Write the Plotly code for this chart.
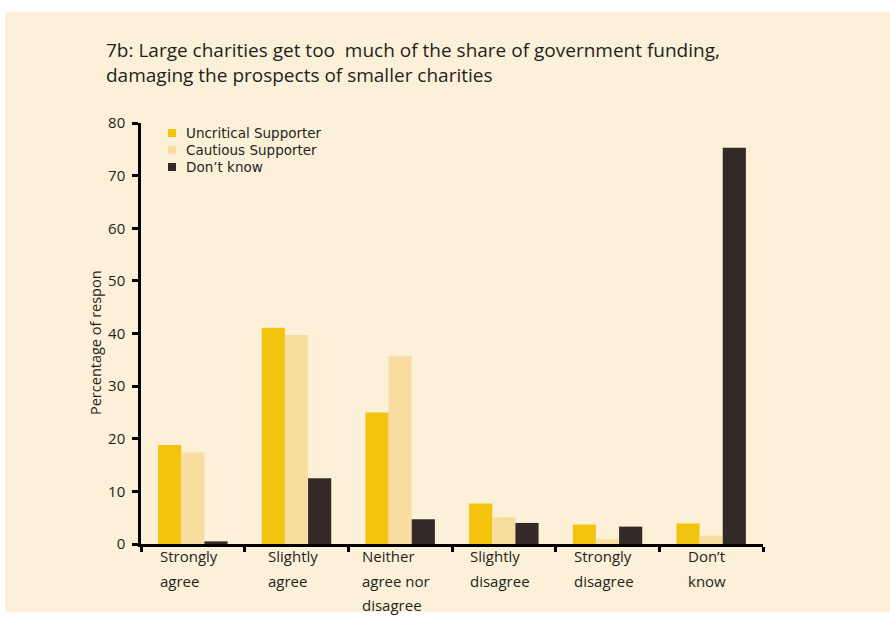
import plotly.graph_objects as go

categories = ["Strongly agree", "Slightly agree", "Neither agree nor disagree",
              "Slightly disagree", "Strongly disagree", "Don't know"]
cat_lines = [["Strongly", "agree"], ["Slightly", "agree"], ["Neither", "agree nor", "disagree"],
             ["Slightly", "disagree"], ["Strongly", "disagree"], ["Don\u2019t", "know"]]
series_names = ["Uncritical Supporter", "Cautious Supporter", "Don\u2019t know"]
series_colors = ["#f2c40f", "#f8dca0", "#332a28"]
uncritical = [18.8, 41.1, 25.0, 7.7, 3.7, 3.9]
cautious = [17.4, 39.7, 35.7, 5.1, 0.9, 1.6]
dont_know = [0.5, 12.5, 4.7, 4.0, 3.3, 75.3]
y_ticks = [0, 10, 20, 30, 40, 50, 60, 70, 80]

FONT = "Open Sans"
LEG_FONT = "DejaVu Sans"
TXT = "#231f20"
BG = "#fdf0d9"

fig = go.Figure()
for name, color, vals in zip(series_names, series_colors, [uncritical, cautious, dont_know]):
    fig.add_trace(go.Bar(x=categories, y=vals, name=name, showlegend=False,
                         marker=dict(color=color, line=dict(width=0))))

L, R, T, B = 141, 127, 123, 74
W, H = 890, 618
pw, ph = W - L - R, H - T - B

def px_x(p):
    return (p - L) / pw

def px_y(p):
    return (H - B - p) / ph

shapes = [dict(type="rect", xref="paper", yref="paper", layer="below",
               x0=px_x(5), x1=px_x(892), y0=px_y(612), y1=px_y(12),
               fillcolor=BG, line=dict(width=0))]

annotations = [dict(xref="paper", yref="paper", x=px_x(104), y=px_y(35),
                    xanchor="left", yanchor="top", align="left", showarrow=False,
                    text="7b: Large charities get too  much of the share of government funding,<br>"
                         "damaging the prospects of smaller charities",
                    font=dict(family=FONT, size=19, color=TXT))]

# y axis title
annotations.append(dict(xref="paper", yref="paper", x=px_x(95), y=px_y(343),
                        xanchor="center", yanchor="middle", textangle=-90, showarrow=False,
                        text="Percentage of respon", font=dict(family=FONT, size=14.5, color=TXT)))

# category labels: block centred under category, lines left aligned, wide line spacing
LAB_SIZE = 15
LINE_FONT = 24.5 / 1.3
for c, lines in zip(categories, cat_lines):
    txt = "<br>".join("<span style='font-size:%gpx'>%s</span>" % (LAB_SIZE, ln) for ln in lines)
    annotations.append(dict(x=c, xref="x", yref="paper", y=px_y(544), yanchor="top",
                            xanchor="center", align="left", showarrow=False, xshift=-4,
                            text=txt, font=dict(family=FONT, size=LINE_FONT, color=TXT)))

# legend drawn manually: swatches + labels
LEG_SIZE = 13.5
LEG_GAP = 17
for i, (name, color) in enumerate(zip(series_names, series_colors)):
    yc = 133 + LEG_GAP * i
    shapes.append(dict(type="rect", xref="paper", yref="paper",
                       x0=px_x(168), x1=px_x(176), y0=px_y(yc + 4), y1=px_y(yc - 4),
                       fillcolor=color, line=dict(width=0)))
    annotations.append(dict(xref="paper", yref="paper", x=px_x(185), y=px_y(yc),
                            xanchor="left", yanchor="middle", showarrow=False, text=name,
                            borderpad=0, font=dict(family=LEG_FONT, size=LEG_SIZE, color=TXT)))

fig.update_layout(
    width=W, height=H,
    margin=dict(l=L, r=R, t=T, b=B, pad=0),
    paper_bgcolor="white", plot_bgcolor=BG,
    barmode="group", bargap=0.33, bargroupgap=0,
    font=dict(family=FONT, color=TXT),
    shapes=shapes, annotations=annotations, showlegend=False,
    xaxis=dict(range=[-0.5, 5.5], showticklabels=False, tickson="boundaries",
               ticks="outside", ticklen=5, tickwidth=2.5, tickcolor="black",
               showline=True, linecolor="black", linewidth=2.5, showgrid=False,
               zeroline=False),
    yaxis=dict(range=[0, 80], tickvals=y_ticks, ticks="outside", ticklen=6,
               tickwidth=2.5, tickcolor="black", showline=True, linecolor="black",
               linewidth=2.5, showgrid=False, zeroline=False, ticklabelstandoff=4,
               tickfont=dict(family=FONT, size=15, color=TXT)),
)

fig.write_html("out.html")
